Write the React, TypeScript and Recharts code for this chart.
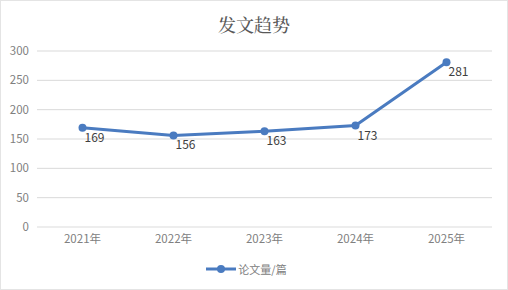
import { CartesianGrid, Legend, LabelList, Line, LineChart, XAxis, YAxis } from "recharts";

const years = ["2021年", "2022年", "2023年", "2024年", "2025年"];
const papers = [169, 156, 163, 173, 281];
const yTicks = [0, 50, 100, 150, 200, 250, 300];

const data = years.map((year, i) => ({ year, papers: papers[i] }));

const FONT = '"Noto Sans CJK SC", "Microsoft YaHei", sans-serif';
const BLUE = "#4A7BC0";

function ValueLabel(props: any) {
  const { x, y, value } = props;
  return (
    <text x={x + 12} y={y + 14} textAnchor="middle" fontSize={12} fill="#404040" fontFamily={FONT}>
      {value}
    </text>
  );
}

function LegendBox(props: any) {
  const items = props.payload || [];
  return (
    <div style={{ display: "flex", justifyContent: "center", fontFamily: FONT, fontSize: 11, color: "#808080" }}>
      {items.map((it: any) => (
        <div key={it.value} style={{ display: "flex", alignItems: "center" }}>
          <svg width={32} height={10} style={{ marginRight: 1 }}>
            <line x1={1} y1={5} x2={31} y2={5} stroke={BLUE} strokeWidth={3} />
            <circle cx={16} cy={5} r={4} fill={BLUE} />
          </svg>
          <span>{it.value}</span>
        </div>
      ))}
    </div>
  );
}

export default function App() {
  return (
    <div
      style={{
        position: "absolute",
        left: 0,
        top: 0,
        width: 508,
        height: 290,
        boxSizing: "border-box",
        border: "1px solid #e4e4e4",
        background: "#fff",
      }}
    >
      <div
        style={{
          position: "absolute",
          left: 0,
          right: 0,
          top: 10,
          textAlign: "center",
          fontSize: 18,
          fontWeight: 500,
          color: "#595959",
          fontFamily: '"Noto Serif CJK SC", "Noto Sans CJK SC", serif',
        }}
      >
        发文趋势
      </div>
      <div style={{ position: "absolute", left: -1, top: -1 }}>
        <LineChart width={508} height={290} data={data} margin={{ top: 51, right: 16, left: 0, bottom: 1 }}>
          <CartesianGrid vertical={false} stroke="#d9d9d9" />
          <XAxis
            dataKey="year"
            scale="band"
            tickLine={false}
            axisLine={{ stroke: "#eeeeee" }}
            height={30}
            tick={{ fill: "#808080", fontSize: 11.5, fontFamily: FONT }}
          />
          <YAxis
            domain={[0, 300]}
            ticks={yTicks}
            width={37}
            tickLine={false}
            axisLine={false}
            tick={{ fill: "#808080", fontSize: 11.5, fontFamily: FONT }}
          />
          <Legend height={28} wrapperStyle={{ paddingTop: 4 }} content={<LegendBox />} />
          <Line
            name="论文量/篇"
            dataKey="papers"
            stroke={BLUE}
            strokeWidth={3}
            dot={{ r: 4, fill: BLUE, stroke: BLUE, strokeWidth: 0 }}
            isAnimationActive={false}
          >
            <LabelList dataKey="papers" content={<ValueLabel />} />
          </Line>
        </LineChart>
      </div>
    </div>
  );
}
